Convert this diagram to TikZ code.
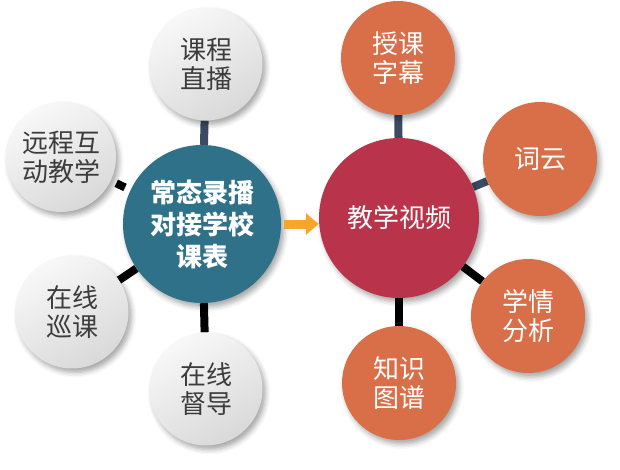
\documentclass[tikz,border=0pt]{standalone}
\usepackage{fontspec}
\setmainfont{Noto Sans CJK SC}
\usetikzlibrary{shadows,shadows.blur,backgrounds,arrows.meta}
\definecolor{tealc}{HTML}{2E7189}
\definecolor{magc}{HTML}{B9344B}
\definecolor{orac}{HTML}{D86F48}
\definecolor{slatec}{HTML}{3B4B63}
\definecolor{arrc}{HTML}{F7A62A}
\definecolor{txtg}{HTML}{3C3C3C}
\definecolor{topg}{HTML}{F8F8F8}
\definecolor{botg}{HTML}{D9D9D9}
\tikzset{
  shd/.style={blur shadow={shadow xshift=3pt, shadow yshift=-4pt, shadow opacity=35, shadow blur radius=5pt}},
  hub/.style={circle, inner sep=0pt, align=center, text=white, font=\fontsize{26}{32}\selectfont\bfseries, shd},
  graysat/.style={circle, inner sep=0pt, minimum size=113pt, align=center, text=txtg,
    shading=axis, top color=topg, bottom color=botg, shading angle=30,
    font=\fontsize{26}{29}\selectfont, shd},
  orsat/.style={circle, inner sep=0pt, minimum size=114pt, align=center, text=white, fill=orac,
    font=\fontsize{26}{29}\selectfont, shd},
  slink/.style={draw=slatec, line width=8pt},
  blink/.style={draw=black, line width=8pt},
}
\begin{document}
\begin{tikzpicture}[x=1pt,y=-1pt]
\useasboundingbox (0,0) rectangle (620,469);
% hubs
\node[hub, fill=tealc, minimum size=158pt] (c1) at (202,224) {常态录播\\对接学校\\课表};
\node[hub, fill=magc, minimum size=160pt, font=\fontsize{26}{32}\selectfont] (c2) at (399,218) {教学视频};
% left satellites
\node[graysat] (a1) at (206,64) {课程\\直播};
\node[graysat, minimum size=110pt] (a2) at (61,157) {远程互\\动教学};
\node[graysat] (a3) at (72,312) {在线\\巡课};
\node[graysat] (a4) at (206,389) {在线\\督导};
% right satellites
\node[orsat] (b1) at (398,58) {授课\\字幕};
\node[orsat] (b2) at (540,159) {词云};
\node[orsat] (b3) at (528,316) {学情\\分析};
\node[orsat] (b4) at (399,383) {知识\\图谱};
% connectors
\begin{scope}[on background layer]
\draw[slink] (a1) -- (c1);
\draw[blink, shorten <=6pt, shorten >=6pt] (a2) -- (c1);
\draw[blink] (a3) -- (c1);
\draw[blink] (a4) -- (c1);
\draw[slink] (b1) -- (c2);
\draw[slink] (b2) -- (c2);
\draw[blink] (b3) -- (c2);
\draw[blink] (b4) -- (c2);
\end{scope}
% arrow
\draw[draw=arrc, line width=9pt, -{Triangle[width=21pt,length=13pt,fill=arrc]}, shorten <=3pt]
  (c1.east) -- (c1.east -| c2.west);
\end{tikzpicture}
\end{document}
